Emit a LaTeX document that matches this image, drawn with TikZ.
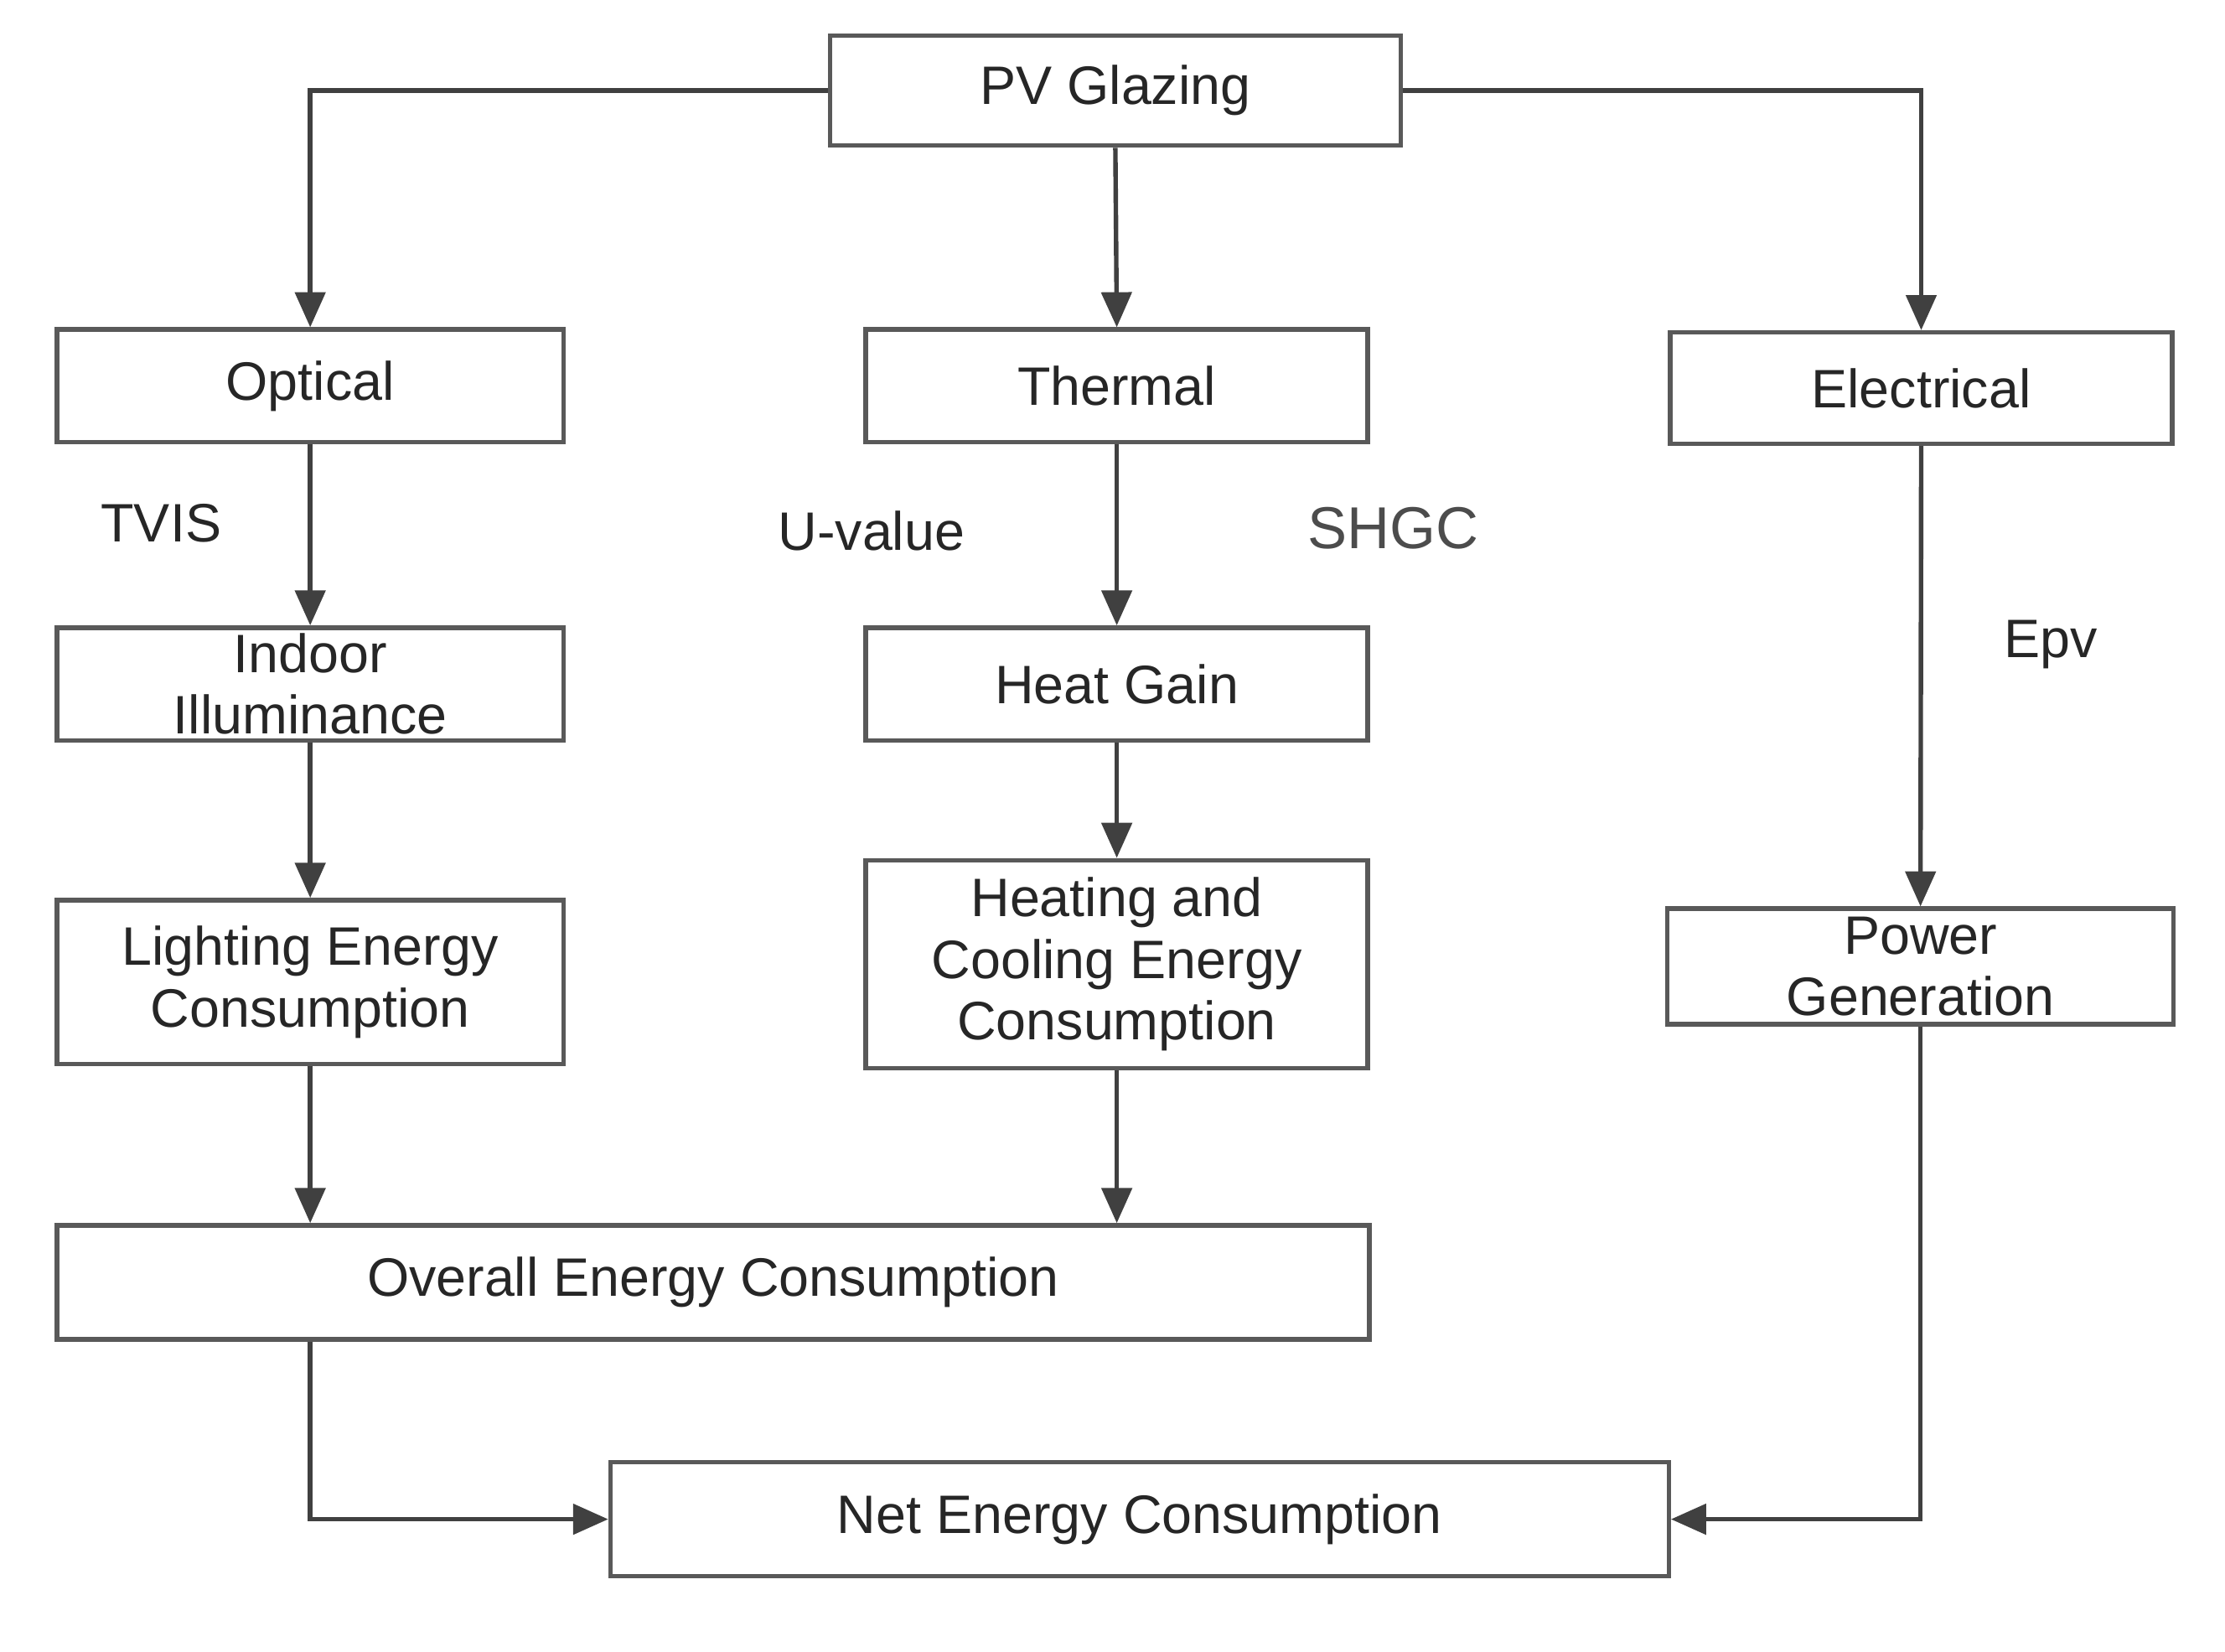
\documentclass[tikz,border=0pt]{standalone}
\usepackage{fontspec}
\setmainfont{Liberation Sans}
\usetikzlibrary{arrows.meta}
\begin{document}
\begin{tikzpicture}[x=0.1mm,y=-0.1mm,
  box/.style={draw=black!65,line width=0.9pt,rectangle,inner sep=0pt,align=center,text=black!85,font=\fontsize{10.8}{12.3}\selectfont},
  arr/.style={draw=black!75,line width=0.9pt,-{Triangle[length=7pt,width=6pt]}},
  lab/.style={text=black!85,font=\fontsize{10.8}{12}\selectfont}]
\useasboundingbox (0,0) rectangle (1560,1158);
\node[box,minimum width=400*0.1mm,minimum height=77*0.1mm] (pv) at (782,63.5) {PV Glazing};
\node[box,minimum width=355*0.1mm,minimum height=79*0.1mm] (opt) at (217.5,270.5) {Optical};
\node[box,minimum width=352*0.1mm,minimum height=79*0.1mm] (th) at (783,270.5) {Thermal};
\node[box,minimum width=352*0.1mm,minimum height=78*0.1mm] (el) at (1347,272) {Electrical};
\node[box,minimum width=355*0.1mm,minimum height=79*0.1mm] (ind) at (217.5,479.5) {Indoor\\Illuminance};
\node[box,minimum width=352*0.1mm,minimum height=79*0.1mm] (hg) at (783,479.5) {Heat Gain};
\node[box,minimum width=355*0.1mm,minimum height=115*0.1mm] (li) at (217.5,688.5) {Lighting Energy\\Consumption};
\node[box,minimum width=352*0.1mm,minimum height=146*0.1mm] (hc) at (783,676) {Heating and\\Cooling Energy\\Consumption};
\node[box,minimum width=355*0.1mm,minimum height=81*0.1mm] (pg) at (1346.5,677.5) {Power\\Generation};
\node[box,minimum width=920*0.1mm,minimum height=80*0.1mm] (ov) at (500,899) {Overall Energy Consumption};
\node[box,minimum width=742*0.1mm,minimum height=80*0.1mm] (net) at (799,1065) {Net Energy Consumption};
\node[lab] (tvis) at (113,367) {TVIS};
\node[lab] (uv) at (611,372) {U-value};
\node[lab,text=black!70,font=\fontsize{11.8}{13}\selectfont] (shgc) at (977,370) {SHGC};
\node[lab] (epv) at (1438,452) {Epv};
\draw[arr] (pv.west) -| (opt.north);
\draw[arr] (pv.south) -- (th.north);
\draw[arr] (pv.east) -| (el.north);
\draw[arr] (opt.south) -- (ind.north);
\draw[arr] (th.south) -- (hg.north);
\draw[arr] (el.south) -- (pg.north);
\draw[arr] (ind.south) -- (li.north);
\draw[arr] (hg.south) -- (hc.north);
\draw[arr] (li.south) -- (li.south |- ov.north);
\draw[arr] (hc.south) -- (hc.south |- ov.north);
\draw[arr] (li.south |- ov.south) |- (net.west);
\draw[arr] (pg.south) |- (net.east);
\end{tikzpicture}
\end{document}
